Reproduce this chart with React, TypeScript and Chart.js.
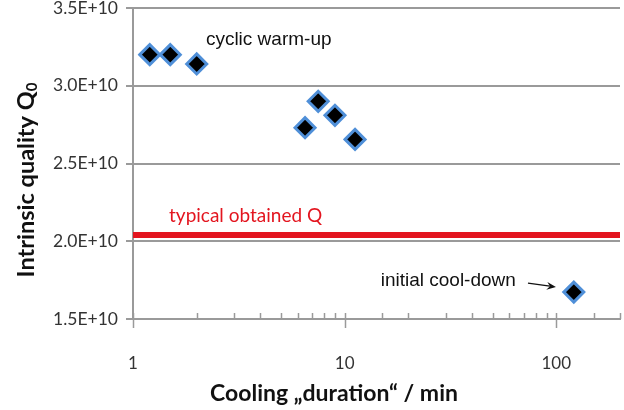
import React, { useEffect, useRef } from "react";
import { Chart, registerables } from "chart.js";

Chart.register(...registerables);

// ---- data ----
const durations = [1.2, 1.5, 2.0, 6.5, 7.5, 9.0, 11.2, 121];
const qualities = [3.2e10, 3.2e10, 3.14e10, 2.73e10, 2.9e10, 2.81e10, 2.655e10, 1.673e10];
const typicalQ = 2.04e10;
const xRange = [1, 200];
const yRange = [1.5e10, 3.5e10];
const yStep = 0.5e10;
const xLabeledTicks = [1, 10, 100];

const xTitle = "Cooling \u201Eduration\u201C / min";
const yTitleMain = "Intrinsic quality Q";
const yTitleSub = "0";
const labelWarm = "cyclic warm-up";
const labelTypical = "typical obtained Q";
const labelInitial = "initial cool-down";
// anchor points of annotations in data space
const warmAt = { x: 2.21, y: 3.295e10 };
const typicalAt = { x: 1.48, y: 2.165e10 };
const initialAt = { x: 14.8, y: 1.744e10 };
const arrowFrom = { x: 73.5, y: 1.731e10 };
const arrowTo = { x: 99.6, y: 1.705e10 };

const AXIS = "#9a9a9a";
const RED = "#e3151f";
const TICK_FONT = "Lato, 'Open Sans', sans-serif";
const NOTE_FONT = "'Liberation Sans', Arial, sans-serif";

const overlay = {
  id: "overlay",
  afterDraw(chart: any) {
    const { ctx, chartArea, scales } = chart;
    const x = scales.x;
    const y = scales.y;
    ctx.save();
    // x tick marks (minor inside, major crossing)
    ctx.strokeStyle = AXIS;
    ctx.lineWidth = 1.5;
    const yb = chartArea.bottom;
    x.ticks.forEach((t: any) => {
      const px = Math.round(x.getPixelForValue(t.value)) + 0.5;
      const major = xLabeledTicks.includes(t.value);
      ctx.beginPath();
      ctx.moveTo(px, yb - 6);
      ctx.lineTo(px, major ? yb + 9 : yb);
      ctx.stroke();
    });

    // annotations
    ctx.textBaseline = "middle";
    ctx.textAlign = "left";
    ctx.font = `19px ${NOTE_FONT}`;
    ctx.fillStyle = "#111";
    ctx.fillText(labelWarm, x.getPixelForValue(warmAt.x), y.getPixelForValue(warmAt.y));
    ctx.fillText(labelInitial, x.getPixelForValue(initialAt.x), y.getPixelForValue(initialAt.y));
    ctx.fillStyle = RED;
    ctx.font = `19px ${TICK_FONT}`;
    ctx.fillText(labelTypical, x.getPixelForValue(typicalAt.x), y.getPixelForValue(typicalAt.y));

    // arrow
    const x0 = x.getPixelForValue(arrowFrom.x);
    const y0 = y.getPixelForValue(arrowFrom.y);
    const x1 = x.getPixelForValue(arrowTo.x);
    const y1 = y.getPixelForValue(arrowTo.y);
    ctx.strokeStyle = "#111";
    ctx.fillStyle = "#111";
    ctx.lineWidth = 1.3;
    ctx.beginPath();
    ctx.moveTo(x0, y0);
    ctx.lineTo(x1 - 6, y1 - 1);
    ctx.stroke();
    const ang = Math.atan2(y1 - y0, x1 - x0);
    ctx.beginPath();
    ctx.moveTo(x1, y1);
    ctx.lineTo(x1 - 10 * Math.cos(ang - 0.4), y1 - 10 * Math.sin(ang - 0.4));
    ctx.lineTo(x1 - 6 * Math.cos(ang), y1 - 6 * Math.sin(ang));
    ctx.lineTo(x1 - 10 * Math.cos(ang + 0.4), y1 - 10 * Math.sin(ang + 0.4));
    ctx.closePath();
    ctx.fill();

    // axis titles
    ctx.fillStyle = "#111";
    ctx.font = `bold 23px ${TICK_FONT}`;
    ctx.textAlign = "center";
    ctx.textBaseline = "middle";
    ctx.fillText(xTitle, 334, 394);

    ctx.translate(26, 180);
    ctx.rotate(-Math.PI / 2);
    ctx.font = `bold 23.5px ${TICK_FONT}`;
    const mainW = ctx.measureText(yTitleMain).width;
    ctx.font = `bold 15px ${TICK_FONT}`;
    const subW = ctx.measureText(yTitleSub).width;
    const total = mainW + subW;
    ctx.textAlign = "left";
    ctx.font = `bold 23.5px ${TICK_FONT}`;
    ctx.fillText(yTitleMain, -total / 2, 0);
    ctx.font = `bold 15px ${TICK_FONT}`;
    ctx.fillText(yTitleSub, -total / 2 + mainW, 6);
    ctx.restore();
  },
};

export default function App() {
  const ref = useRef<HTMLCanvasElement>(null);
  useEffect(() => {
    document.body.style.margin = "0";
    const chart = new Chart(ref.current!, {
      type: "scatter",
      data: {
        datasets: [
          {
            type: "line",
            data: [
              { x: xRange[0], y: typicalQ },
              { x: xRange[1], y: typicalQ },
            ],
            borderColor: RED,
            borderWidth: 6,
            pointRadius: 0,
            fill: false,
          } as any,
          {
            data: durations.map((d, i) => ({ x: d, y: qualities[i] })),
            pointStyle: "rectRot",
            pointRadius: 10,
            backgroundColor: "#000",
            borderColor: "#4f8fd8",
            borderWidth: 3,
          },
        ],
      },
      options: {
        responsive: false,
        animation: false,
        events: [],
        layout: { autoPadding: false, padding: { top: 8, right: 4, left: 0, bottom: 0 } },
        plugins: { legend: { display: false }, tooltip: { enabled: false } },
        scales: {
          x: {
            type: "logarithmic",
            min: xRange[0],
            max: xRange[1],
            grid: { drawOnChartArea: false, drawTicks: false },
            border: { display: true, color: AXIS, width: 2 },
            ticks: {
              autoSkip: false,
              maxRotation: 0,
              padding: 34,
              color: "#333",
              font: { family: TICK_FONT, size: 17 },
              callback: (v: any) => (xLabeledTicks.includes(Number(v)) ? String(v) : ""),
            },
            afterFit: (s: any) => {
              s.height = 91;
              s.paddingLeft = 0;
              s.paddingRight = 0;
            },
          },
          y: {
            min: yRange[0],
            max: yRange[1],
            grid: { color: AXIS, lineWidth: 2, tickLength: 7, drawTicks: true },
            border: { display: true, color: AXIS, width: 2 },
            ticks: {
              stepSize: yStep,
              padding: 8,
              color: "#333",
              font: { family: TICK_FONT, size: 17.5 },
              callback: (v: any) => (Number(v) / 1e10).toFixed(1) + "E+10",
            },
            afterFit: (s: any) => {
              s.width = 133;
              s.paddingTop = 0;
              s.paddingBottom = 0;
            },
          },
        },
      },
      plugins: [overlay],
    });
    return () => chart.destroy();
  }, []);
  return (
    <div style={{ width: 624, height: 410 }}>
      <canvas ref={ref} width={624} height={410} />
    </div>
  );
}
